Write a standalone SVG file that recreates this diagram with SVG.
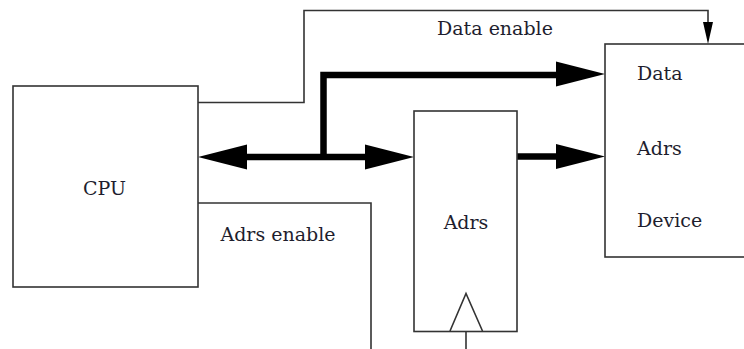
<svg xmlns="http://www.w3.org/2000/svg" width="744" height="349" viewBox="0 0 744 349">
  <style>
    .box { fill: #fff; stroke: #333; stroke-width: 1.6; }
    .wire { fill: none; stroke: #333; stroke-width: 1.6; }
    .bus { fill: none; stroke: #000; stroke-width: 6.5; stroke-linejoin: miter; }
    .head { fill: #000; stroke: none; }
    .lbl { font-family: "DejaVu Serif", "Liberation Serif", serif; font-size: 19px; fill: #1e1e2e; }
  </style>
  <defs>
    <!-- wide filled head for the thick buses, drawn pointing right with tip at origin -->
    <polygon id="bigHead" points="0,0 -49,-12.5 -49,12.5" class="head"/>
  </defs>
  <rect width="744" height="349" fill="#fff"/>

  <g id="connectors">
    <!-- Data enable control line -->
    <polyline class="wire" points="198,102.5 304,102.5 304,10.5 708,10.5 708,32"/>
    <polygon class="head" points="703,22 713,22 708,44"/>
    <!-- Adrs enable control line -->
    <polyline class="wire" points="198,203 371,203 371,349"/>
    <!-- clock input to the address register -->
    <line class="wire" x1="466" y1="331" x2="466" y2="349"/>
    <!-- bidirectional bus between CPU and address register -->
    <line class="bus" x1="240" y1="157" x2="370" y2="157"/>
    <use href="#bigHead" transform="translate(198,157) rotate(180)"/>
    <use href="#bigHead" transform="translate(414,157)"/>
    <!-- data branch up to the device -->
    <polyline class="bus" points="323.5,157 323.5,75 560,75"/>
    <use href="#bigHead" transform="translate(605,74)"/>
    <!-- register output to device address -->
    <line class="bus" x1="517" y1="156.5" x2="560" y2="156.5"/>
    <use href="#bigHead" transform="translate(605,156.5)"/>
  </g>

  <g id="cpu">
    <rect class="box" x="13" y="86" width="185" height="201"/>
    <text class="lbl" x="104.5" y="195" text-anchor="middle">CPU</text>
  </g>

  <g id="adrs-register">
    <rect class="box" x="414" y="111" width="103" height="220.5"/>
    <polyline class="wire" points="450,331 466,293.5 482.5,331"/>
    <text class="lbl" x="466" y="229" text-anchor="middle">Adrs</text>
  </g>

  <g id="device">
    <rect class="box" x="605" y="44" width="145" height="213"/>
    <text class="lbl" x="637" y="80">Data</text>
    <text class="lbl" x="637" y="155">Adrs</text>
    <text class="lbl" x="637" y="227">Device</text>
  </g>

  <g id="labels">
    <text class="lbl" x="495" y="35" text-anchor="middle">Data enable</text>
    <text class="lbl" x="278" y="241" text-anchor="middle">Adrs enable</text>
  </g>
</svg>
